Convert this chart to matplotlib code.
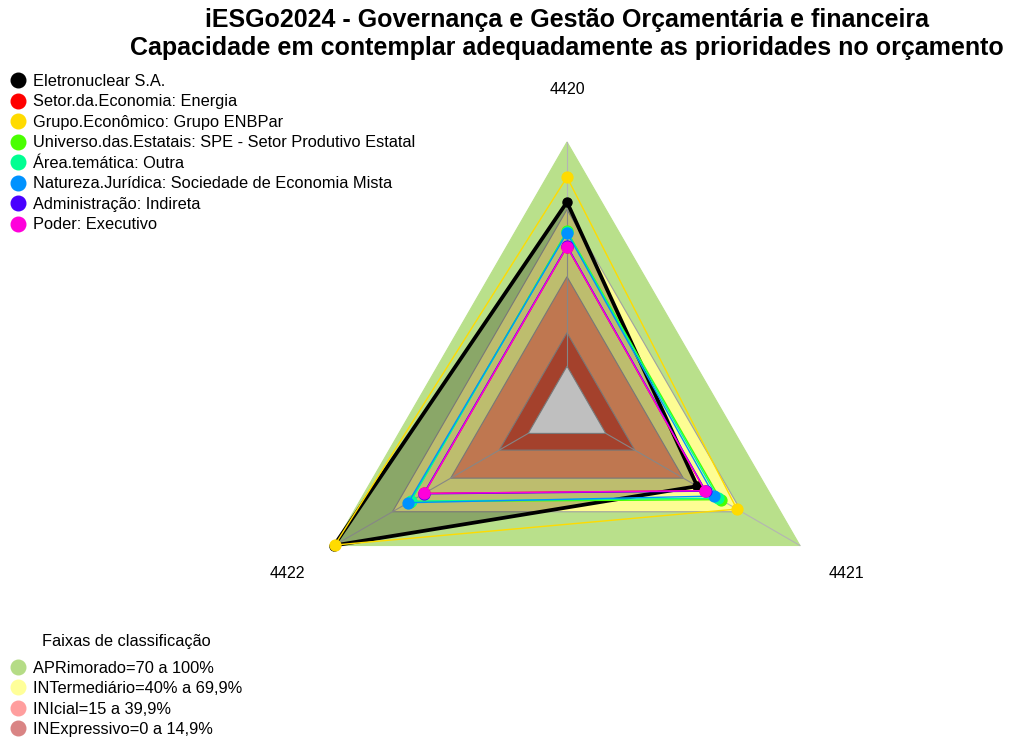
import numpy as np
import matplotlib.pyplot as plt
from matplotlib.lines import Line2D
from matplotlib.patches import Polygon

plt.rcParams["font.family"] = ["Liberation Sans", "DejaVu Sans"]

title = ("iESGo2024 - Governança e Gestão Orçamentária e financeira\n"
         "Capacidade em contemplar adequadamente as prioridades no orçamento")
axis_labels = ["4420", "4422", "4421"]

series_names = [
    "Eletronuclear S.A.",
    "Setor.da.Economia: Energia",
    "Grupo.Econômico: Grupo ENBPar",
    "Universo.das.Estatais: SPE - Setor Produtivo Estatal",
    "Área.temática: Outra",
    "Natureza.Jurídica: Sociedade de Economia Mista",
    "Administração: Indireta",
    "Poder: Executivo",
]
series_colors = ["#000000", "#FF0000", "#FFDB00", "#49FF00",
                 "#00FF92", "#0092FF", "#4900FF", "#FF00DB"]

# values per axis, in the order 4420, 4422, 4421
eletronuclear = [73.2, 100.0, 47.1]
setor_energia = [53.3, 53.5, 51.1]
grupo_enbpar = [84.3, 99.6, 67.5]
universo_spe = [60.3, 60.8, 59.1]
area_outra = [60.0, 60.5, 57.8]
natureza_sem = [59.5, 61.8, 55.9]
administracao_indireta = [53.6, 53.9, 51.5]
poder_executivo = [53.3, 53.5, 51.1]

series_values = [eletronuclear, setor_energia, grupo_enbpar, universo_spe,
                 area_outra, natureza_sem, administracao_indireta, poder_executivo]

band_names = ["APRimorado=70 a 100%", "INTermediário=40% a 69,9%",
              "INIcial=15 a 39,9%", "INExpressivo=0 a 14,9%"]
band_upper = [100.0, 69.9, 39.9, 14.9]
band_colors = ["#B9E08B", "#FDFD93", "#FFA06B", "#DC573C"]
band_legend_colors = ["#B5DC86", "#FFFF99", "#FF9E9E", "#D98484"]

# layout (pixel units)
W, H = 1021, 738
cx, cy, R = 567, 411, 269
angles = np.deg2rad([90, 210, 330])


def radar_xy(values):
    v = np.asarray(values, dtype=float)
    r = R * (1 / 6 + v / 100 * 5 / 6)
    return np.column_stack([cx + r * np.cos(angles), cy - r * np.sin(angles)])


fig = plt.figure(figsize=(W / 100, H / 100), dpi=100)
ax = fig.add_axes([0, 0, 1, 1])
ax.set_xlim(0, W)
ax.set_ylim(H, 0)
ax.axis("off")

# classification bands
for k, (upper, color) in enumerate(zip(band_upper, band_colors)):
    edge = color if k == 0 else "#A0A0A0"
    ax.add_patch(Polygon(radar_xy([upper] * 3), closed=True, facecolor=color,
                         edgecolor=edge, linewidth=0.8, zorder=1))
ax.add_patch(Polygon(radar_xy([0, 0, 0]), closed=True, facecolor="white",
                     edgecolor="#A0A0A0", linewidth=0.8, zorder=1))

# spokes
inner = radar_xy([0, 0, 0])
outer = radar_xy([100, 100, 100])
for p0, p1 in zip(inner, outer):
    ax.plot([p0[0], p1[0]], [p0[1], p1[1]], color="#B4B4B4", linewidth=0.8, zorder=2)

# series
for i, (name, vals, color) in enumerate(zip(series_names, series_values, series_colors)):
    xy = radar_xy(vals)
    closed = np.vstack([xy, xy[:1]])
    if i == 0:
        ax.add_patch(Polygon(xy, closed=True, facecolor=(0, 0, 0, 0.25),
                             edgecolor="none", zorder=3))
        ax.plot(closed[:, 0], closed[:, 1], color=color, linewidth=2.7, zorder=4)
        ax.plot(xy[:, 0], xy[:, 1], "o", color=color, markersize=6.5, zorder=4)
    else:
        ax.plot(closed[:, 0], closed[:, 1], color=color, linewidth=1.0, zorder=4 + i)
        ax.plot(xy[:, 0], xy[:, 1], "o", color=color, markersize=7.8, zorder=4 + i)

# axis labels
for lab, (lx, ly) in zip(axis_labels, radar_xy([124, 124, 124])):
    ax.text(lx, ly + 1, lab, ha="center", va="center", fontsize=11.5)

ax.text(cx, 34, title, ha="center", va="center", fontsize=18,
        fontweight="bold", linespacing=1.22)

# legends
h1 = [Line2D([], [], linestyle="none", marker="o", markersize=10.5, color=c)
      for c in series_colors]
leg1 = ax.legend(h1, series_names, loc="upper left",
                 bbox_to_anchor=(9.8 / W, 1 - 74 / H), frameon=False,
                 fontsize=11.8, handlelength=1.0, handletextpad=0.4,
                 labelspacing=0.335, borderpad=0, borderaxespad=0)
ax.add_artist(leg1)

h2 = [Line2D([], [], linestyle="none", marker="o", markersize=10.5, color=c)
      for c in band_legend_colors]
leg2 = ax.legend(h2, band_names, title="Faixas de classificação", loc="lower left",
                 bbox_to_anchor=(9.8 / W, 1 / H), frameon=False, fontsize=11.8,
                 title_fontsize=11.8, handlelength=1.0, handletextpad=0.4,
                 labelspacing=0.335, borderpad=0, borderaxespad=0)
leg2._legend_box.sep = 8

fig.savefig("out.png", dpi=100)
